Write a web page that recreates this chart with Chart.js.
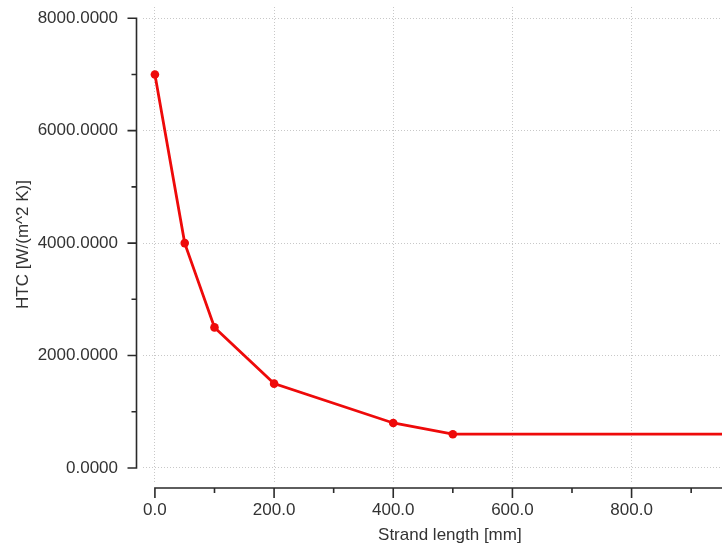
<!DOCTYPE html>
<html>
<head>
<meta charset="utf-8">
<script src="https://cdn.jsdelivr.net/npm/chart.js@4/dist/chart.umd.min.js"></script>
<style>
  html, body { margin: 0; padding: 0; background: #fff; width: 722px; height: 546px; overflow: hidden; }
  #wrap { position: absolute; left: 0; top: 0; width: 761px; height: 546px; }
</style>
</head>
<body>
<div id="wrap"><canvas id="c" width="761" height="546"></canvas></div>
<script>
// ---- data ----
const strandLength = [0, 50, 100, 200, 400, 500, 1000];      // mm
const htcValues    = [7000, 4000, 2500, 1500, 800, 600, 600]; // W/(m^2 K)
const xTickValues  = [0, 100, 200, 300, 400, 500, 600, 700, 800, 900, 1000];
const xLabelValues = [0, 200, 400, 600, 800, 1000];
const yTickValues  = [0, 1000, 2000, 3000, 4000, 5000, 6000, 7000, 8000];
const yLabelValues = [0, 2000, 4000, 6000, 8000];
const xTitle = 'Strand length [mm]';
const yTitle = 'HTC [W/(m^2 K)]';

const FONT = { family: "'Liberation Sans', Arial, sans-serif", size: 17 };
const TEXT = '#333333';
const GRID = '#c8c8c8';
const AXIS = '#2a2a2a';
const RED = '#ee0a0a';

const axesPlugin = {
  id: 'detachedAxes',
  afterDraw(chart) {
    const { ctx, chartArea, scales: { x, y } } = chart;
    ctx.save();
    ctx.strokeStyle = AXIS;
    ctx.lineWidth = 1.6;
    ctx.lineCap = 'butt';
    // y axis
    const ax = chartArea.left - 6.5;
    const yTop = y.getPixelForValue(yTickValues[yTickValues.length - 1]);
    const yBot = y.getPixelForValue(yTickValues[0]);
    ctx.beginPath();
    ctx.moveTo(ax, yTop); ctx.lineTo(ax, yBot);
    yTickValues.forEach(v => {
      const p = y.getPixelForValue(v);
      const len = yLabelValues.includes(v) ? 9 : 5;
      ctx.moveTo(ax - len, p); ctx.lineTo(ax + 0.8, p);
    });
    ctx.stroke();
    // x axis
    const ay = chartArea.bottom + 6;
    const xLeft = x.getPixelForValue(xTickValues[0]);
    ctx.beginPath();
    ctx.moveTo(xLeft - 0.8, ay); ctx.lineTo(chart.width, ay);
    xTickValues.forEach(v => {
      const p = x.getPixelForValue(v);
      const len = xLabelValues.includes(v) ? 10 : 5;
      ctx.moveTo(p, ay); ctx.lineTo(p, ay + len);
    });
    ctx.stroke();
    ctx.restore();
  }
};

new Chart(document.getElementById('c'), {
  type: 'line',
  data: {
    datasets: [{
      data: strandLength.map((v, i) => ({ x: v, y: htcValues[i] })),
      borderColor: RED,
      backgroundColor: RED,
      borderWidth: 2.8,
      pointRadius: 4.3,
      pointHoverRadius: 4.3,
      pointBackgroundColor: RED,
      pointBorderColor: RED,
      pointBorderWidth: 0,
      tension: 0
    }]
  },
  plugins: [axesPlugin],
  options: {
    responsive: false,
    animation: false,
    devicePixelRatio: 1,
    layout: { padding: { top: 7, left: 0, right: 0, bottom: 0 } },
    plugins: { legend: { display: false }, tooltip: { enabled: false } },
    scales: {
      x: {
        type: 'linear',
        min: -20,
        max: 1010,
        afterBuildTicks: s => { s.ticks = xTickValues.map(v => ({ value: v })); },
        afterFit: s => { s.height = 64; s.paddingLeft = 0; s.paddingRight = 0; },
        grid: {
          drawTicks: false,
          color: ctx => (ctx.tick && xLabelValues.includes(ctx.tick.value)) ? GRID : 'rgba(0,0,0,0)',
          lineWidth: 1
        },
        border: { display: false, dash: [1, 2] },
        ticks: {
          autoSkip: false,
          maxRotation: 0,
          padding: 18,
          color: TEXT,
          font: FONT,
          callback: v => xLabelValues.includes(v) ? v.toFixed(1) : ''
        },
        title: {
          display: true,
          text: xTitle,
          color: TEXT,
          font: FONT,
          padding: { top: 0, bottom: 0 }
        }
      },
      y: {
        type: 'linear',
        min: -250,
        max: 8200,
        afterBuildTicks: s => { s.ticks = yTickValues.map(v => ({ value: v })); },
        afterFit: s => { s.width = 143; s.paddingTop = 0; s.paddingBottom = 0; },
        grid: {
          drawTicks: false,
          color: ctx => (ctx.tick && yLabelValues.includes(ctx.tick.value)) ? GRID : 'rgba(0,0,0,0)',
          lineWidth: 1
        },
        border: { display: false, dash: [1, 2] },
        ticks: {
          autoSkip: false,
          padding: 25,
          color: TEXT,
          font: FONT,
          callback: v => yLabelValues.includes(v) ? v.toFixed(4) : ''
        },
        title: {
          display: true,
          text: yTitle,
          color: TEXT,
          font: FONT,
          padding: { top: 12.8, bottom: 0 }
        }
      }
    }
  }
});
</script>
</body>
</html>
